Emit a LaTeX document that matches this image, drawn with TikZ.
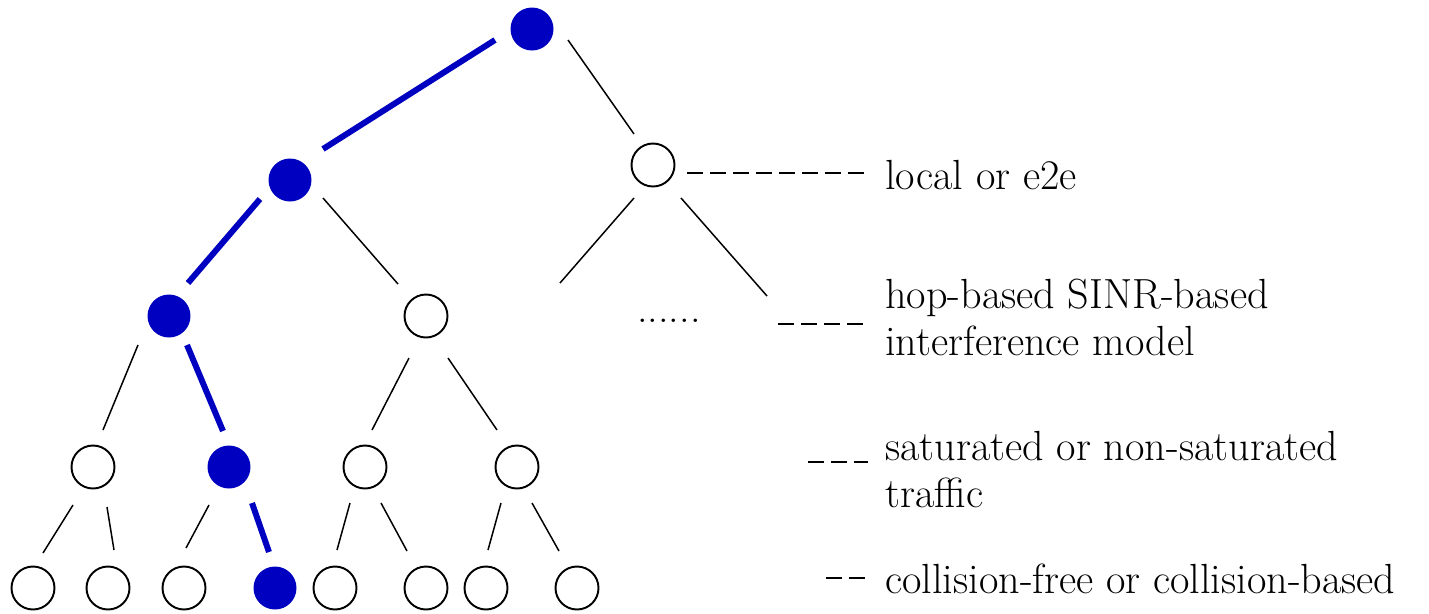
\documentclass[tikz,border=0pt]{standalone}
\usetikzlibrary{calc}
\definecolor{pathblue}{RGB}{0,0,192}
\tikzset{
  vertex/.style={circle,draw,line width=1.1pt,minimum size=0.86cm,inner sep=0pt},
  onpath/.style={circle,fill=pathblue,minimum size=0.86cm,inner sep=0pt},
  edge/.style={line width=0.85pt},
  pathedge/.style={line width=3.4pt,pathblue},
  legend/.style={line width=1.1pt,dash pattern=on 0.32cm off 0.14cm},
  note/.style={anchor=base west,inner sep=0pt,align=left,font=\fontsize{24}{26.2}\selectfont}
}
\begin{document}
\begin{tikzpicture}[x=0.02cm,y=-0.02cm]
    \useasboundingbox (0,0) rectangle (1429,613);
    % Baum
    \node[onpath] (R) at (532,29) {};
    \node[onpath] (A) at (290,180) {};
    \node[vertex] (B) at (653,165) {};
    \node[onpath] (C) at (169,316) {};
    \node[vertex] (D) at (426,316) {};
    \node[vertex] (E) at (93,467) {};
    \node[onpath] (F) at (229,467) {};
    \node[vertex] (G) at (365,467) {};
    \node[vertex] (H) at (517,467) {};
    \node[vertex] (L1) at (33,588) {};
    \node[vertex] (L2) at (108,588) {};
    \node[vertex] (L3) at (184,588) {};
    \node[onpath] (L4) at (275,588) {};
    \node[vertex] (L5) at (335,588) {};
    \node[vertex] (L6) at (426,588) {};
    \node[vertex] (L7) at (486,588) {};
    \node[vertex] (L8) at (577,588) {};
    \coordinate (Bl) at (560,283);
    \coordinate (Br) at (767,296);

    % Kanten
    \draw[pathedge] ($(R)+(-37,11)$) -- ($(A)+(33,-31)$);
    \draw[edge] ($(R)+(36,11)$) -- ($(B)+(-19,-31)$);
    \draw[pathedge] ($(A)+(-30,19)$) -- ($(C)+(19,-33)$);
    \draw[edge] ($(A)+(33,18)$) -- ($(D)+(-28,-32)$);
    \draw[edge] ($(B)+(-19,33)$) -- (Bl);
    \draw[edge] ($(B)+(28,33)$) -- (Br);
    \draw[edge] ($(C)+(-31,29)$) -- ($(E)+(10,-37)$);
    \draw[pathedge] ($(C)+(18,29)$) -- ($(F)+(-6,-36)$);
    \draw[edge] ($(D)+(-17,42)$) -- ($(G)+(7,-37)$);
    \draw[edge] ($(D)+(22,42)$) -- ($(H)+(-20,-37)$);
    \draw[edge] ($(E)+(-20,38)$) -- ($(L1)+(10,-35)$);
    \draw[edge] ($(E)+(14,40)$) -- ($(L2)+(6,-38)$);
    \draw[edge] ($(F)+(-20,38)$) -- ($(L3)+(2,-40)$);
    \draw[pathedge] ($(F)+(23,36)$) -- ($(L4)+(-6,-36)$);
    \draw[edge] ($(G)+(-15,36)$) -- ($(L5)+(2,-38)$);
    \draw[edge] ($(G)+(16,36)$) -- ($(L6)+(-19,-37)$);
    \draw[edge] ($(H)+(-16,36)$) -- ($(L7)+(2,-38)$);
    \draw[edge] ($(H)+(15,36)$) -- ($(L8)+(-18,-37)$);

    \node[note] (dots) at (637,322) {......};

    % Beschriftung
    \node[note] (t1) at (885,189) {local or e2e};
    \node[note] (t2) at (885,355) {hop-based SINR-based\\interference model};
    \node[note] (t3) at (885,507) {saturated or non-saturated\\traffic};
    \node[note] (t4) at (885,593) {collision-free or collision-based};

    \draw[legend] ($(B)+(34,8)$) -- ($(t1.base west)+(-17,-16)$);
    \draw[legend] ($(t2.base west)+(-107,-31)$) -- ($(t2.base west)+(-17,-31)$);
    \draw[legend] ($(t3.base west)+(-77,-45)$) -- ($(t3.base west)+(-17,-45)$);
    \draw[legend] ($(t4.base west)+(-59,-15)$) -- ($(t4.base west)+(-17,-15)$);
\end{tikzpicture}
\end{document}
